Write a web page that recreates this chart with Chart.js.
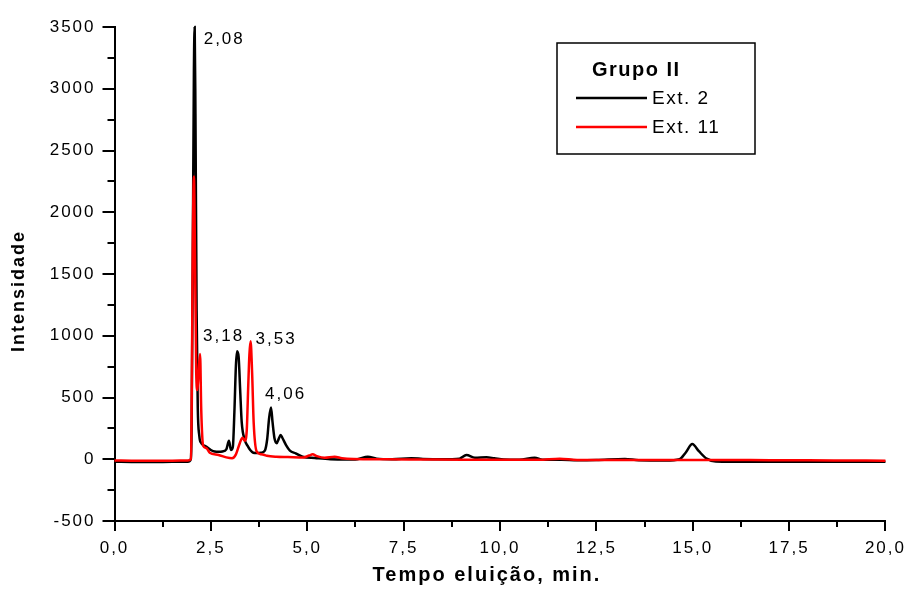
<!DOCTYPE html>
<html>
<head>
<meta charset="utf-8">
<script src="https://cdn.jsdelivr.net/npm/chart.js@4"></script>
<style>
  body { margin: 0; background: #fff; }
  canvas { display: block; }
</style>
</head>
<body>
<canvas id="cromatograma" width="909" height="595"></canvas>
<script>
// tempos de retenção (min) e intensidades de cada extrato
const tempoExt2 = [0, 0.5, 1, 1.5, 1.9, 1.98, 2.0, 2.03, 2.06, 2.08, 2.1, 2.13, 2.16, 2.2, 2.25, 2.3, 2.38, 2.5, 2.6, 2.7,
  2.8, 2.9, 2.97, 3.02, 3.07, 3.11, 3.15, 3.18, 3.22, 3.26, 3.3, 3.38, 3.45, 3.52, 3.6, 3.7, 3.8, 3.9, 3.96, 4.01,
  4.06, 4.1, 4.15, 4.21, 4.26, 4.31, 4.36, 4.45, 4.55, 4.7, 4.88, 5.2, 5.6, 6.0, 6.3, 6.57, 6.8, 7.2, 7.7, 8.0,
  8.5, 8.95, 9.13, 9.35, 9.65, 9.85, 10.1, 10.5, 10.9, 11.1, 11.6, 12.0, 12.5, 13.24, 13.6, 14.3, 14.66, 14.82, 14.99, 15.16,
  15.36, 15.6, 16.0, 17.0, 18.0, 19.0, 20.0];
const intensExt2 = [-20, -22, -22, -21, -20, 0, 250, 1600, 3150, 3500, 2800, 1200, 420, 190, 131, 115, 102, 75, 62, 60,
  63, 80, 150, 75, 100, 380, 760, 875, 830, 560, 300, 156, 110, 75, 53, 50, 53, 70, 160, 330,
  420, 300, 170, 130, 165, 196, 170, 115, 70, 48, 20, 10, 0, -3, 0, 20, 5, 0, 8, 3,
  0, 5, 34, 12, 16, 8, -3, -5, 12, -4, -5, -8, -6, 3, -8, -10, 0, 55, 123, 65,
  5, -18, -20, -20, -20, -20, -20];

const tempoExt11 = [0, 0.5, 1, 1.5, 1.9, 1.98, 2.0, 2.03, 2.06, 2.09, 2.12, 2.15, 2.18, 2.22, 2.25, 2.3, 2.38, 2.47, 2.7, 2.9,
  3.05, 3.15, 3.25, 3.32, 3.38, 3.43, 3.47, 3.5, 3.53, 3.57, 3.61, 3.69, 3.8, 3.89, 3.95, 4.2, 4.5, 4.9, 5.05, 5.14,
  5.25, 5.45, 5.71, 5.9, 6.2, 7.0, 8.0, 9.0, 10.0, 11.0, 11.55, 12.0, 13.0, 14.0, 15.0, 16.0, 17.0, 18.0, 19.0, 20.0];
const intensExt11 = [-10, -12, -12, -12, -10, 0, 350, 1700, 2290, 1600, 700, 560, 700, 852, 400, 110, 91, 53, 35, 15,
  8, 40, 130, 175, 150, 230, 600, 850, 955, 700, 300, 61, 40, 34, 28, 20, 18, 15, 30, 40,
  25, 12, 20, 8, 2, 0, -2, -4, -5, -5, 5, -6, -6, -6, -6, -6, -8, -8, -10, -12];

const nomesSeries = ['Ext. 2', 'Ext. 11'];
const coresSeries = ['#000000', '#ff0000'];
const tituloLegenda = 'Grupo II';

// picos anotados: tempo, intensidade e deslocamento do texto (px)
const picosTempo = [2.08, 3.18, 3.53, 4.06];
const picosIntens = [3500, 875, 955, 420];
const picosDesloc = [[9, 12], [-34, -15], [5, -2], [-6, -13]];

const eixoX = { min: 0, max: 20, passo: 2.5 };
const eixoY = { min: -500, max: 3500, passo: 500 };

const fonte = '"Liberation Sans", Arial, sans-serif';

function pontos(xs, ys) {
  return xs.map((x, i) => ({ x: x, y: ys[i] }));
}

// marcas menores entre as principais, no lado de fora dos eixos
const marcasMenores = {
  id: 'marcasMenores',
  afterDraw(chart) {
    const ctx = chart.ctx;
    const x = chart.scales.x, y = chart.scales.y;
    const area = chart.chartArea;
    ctx.save();
    ctx.strokeStyle = '#000';
    ctx.lineWidth = 2;
    ctx.beginPath();
    for (let v = eixoX.min + eixoX.passo / 2; v < eixoX.max; v += eixoX.passo) {
      const px = Math.round(x.getPixelForValue(v));
      ctx.moveTo(px, area.bottom);
      ctx.lineTo(px, area.bottom + 6);
    }
    for (let v = eixoY.min + eixoY.passo / 2; v < eixoY.max; v += eixoY.passo) {
      const py = Math.round(y.getPixelForValue(v));
      ctx.moveTo(area.left, py);
      ctx.lineTo(area.left - 7, py);
    }
    ctx.stroke();
    ctx.restore();
  }
};

// títulos dos eixos, rótulos dos picos e caixa da legenda
const textos = {
  id: 'textos',
  beforeDraw(chart) {
    chart.ctx.letterSpacing = '2px';
  },
  afterDraw(chart) {
    const ctx = chart.ctx;
    const x = chart.scales.x, y = chart.scales.y;
    ctx.save();
    ctx.fillStyle = '#000';
    ctx.textBaseline = 'middle';

    ctx.letterSpacing = '2px';
    ctx.font = '17px ' + fonte;
    ctx.textAlign = 'left';
    picosTempo.forEach((t, i) => {
      const px = x.getPixelForValue(t) + picosDesloc[i][0];
      const py = y.getPixelForValue(picosIntens[i]) + picosDesloc[i][1];
      ctx.fillText(t.toFixed(2).replace('.', ','), px, py);
    });

    ctx.font = 'bold 20px ' + fonte;
    ctx.textAlign = 'center';
    ctx.fillText('Tempo eluição, min.', 487, 575);

    ctx.save();
    ctx.translate(19, 291);
    ctx.rotate(-Math.PI / 2);
    ctx.font = 'bold 18px ' + fonte;
    ctx.fillText('Intensidade', 0, 0);
    ctx.restore();

    // legenda
    ctx.strokeStyle = '#000';
    ctx.lineWidth = 1.5;
    ctx.strokeRect(557, 43, 198, 111);
    ctx.font = 'bold 20px ' + fonte;
    ctx.textAlign = 'left';
    ctx.letterSpacing = '1.5px';
    ctx.fillText(tituloLegenda, 592, 70);
    ctx.font = '19px ' + fonte;
    nomesSeries.forEach((nome, i) => {
      const ly = 98 + i * 29;
      ctx.strokeStyle = coresSeries[i];
      ctx.lineWidth = 2.5;
      ctx.beginPath();
      ctx.moveTo(576, ly);
      ctx.lineTo(647, ly);
      ctx.stroke();
      ctx.fillText(nome, 652, ly + 1);
    });
    ctx.restore();
  }
};

new Chart(document.getElementById('cromatograma'), {
  type: 'line',
  data: {
    datasets: [{
      label: nomesSeries[0],
      data: pontos(tempoExt2, intensExt2),
      borderColor: coresSeries[0],
      borderWidth: 2.5,
      pointRadius: 0,
      cubicInterpolationMode: 'monotone',
      clip: false,
      order: 1
    }, {
      label: nomesSeries[1],
      data: pontos(tempoExt11, intensExt11),
      borderColor: coresSeries[1],
      borderWidth: 2.5,
      pointRadius: 0,
      cubicInterpolationMode: 'monotone',
      clip: false,
      order: 0
    }]
  },
  options: {
    responsive: false,
    animation: false,
    layout: { padding: { top: 27, right: 23, bottom: 0, left: 0 } },
    plugins: {
      legend: { display: false },
      tooltip: { enabled: false }
    },
    scales: {
      x: {
        type: 'linear',
        min: eixoX.min,
        max: eixoX.max,
        afterFit(scale) { scale.height = 74; },
        border: { color: '#000', width: 2 },
        grid: { drawOnChartArea: false, color: '#000', lineWidth: 2, tickLength: 10 },
        ticks: {
          stepSize: eixoX.passo,
          autoSkip: false,
          maxRotation: 0,
          padding: 7,
          color: '#000',
          font: { family: fonte, size: 17 },
          callback: v => v.toFixed(1).replace('.', ',')
        }
      },
      y: {
        min: eixoY.min,
        max: eixoY.max,
        afterFit(scale) { scale.width = 114.5; },
        border: { color: '#000', width: 2 },
        grid: { drawOnChartArea: false, color: '#000', lineWidth: 2, tickLength: 12 },
        ticks: {
          stepSize: eixoY.passo,
          padding: 7,
          color: '#000',
          font: { family: fonte, size: 17 },
          callback: v => String(v)
        }
      }
    }
  },
  plugins: [marcasMenores, textos]
});
</script>
</body>
</html>
